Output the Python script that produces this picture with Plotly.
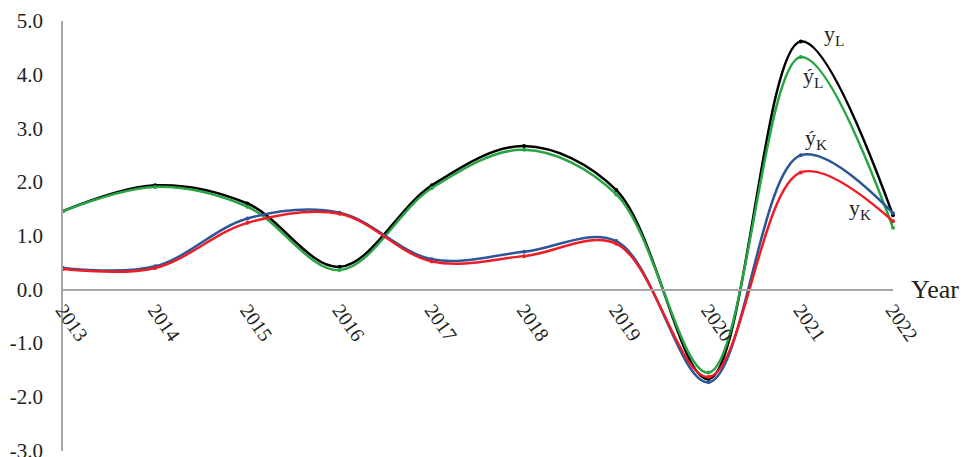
import plotly.graph_objects as go

years = [2013, 2014, 2015, 2016, 2017, 2018, 2019, 2020, 2021, 2022]
year_labels = [str(y) for y in years]

y_L = [1.46, 1.94, 1.60, 0.42, 1.94, 2.67, 1.85, -1.67, 4.62, 1.38]
y_L_hat = [1.46, 1.91, 1.54, 0.36, 1.89, 2.60, 1.77, -1.55, 4.33, 1.15]
y_K_hat = [0.40, 0.43, 1.32, 1.43, 0.56, 0.70, 0.90, -1.73, 2.50, 1.42]
y_K = [0.38, 0.40, 1.24, 1.41, 0.52, 0.62, 0.85, -1.63, 2.18, 1.27]

series_names = ["y<sub>L</sub>", "ý<sub>L</sub>", "ý<sub>K</sub>", "y<sub>K</sub>"]
series_colors = ["#000000", "#27a443", "#2b5797", "#ee1c25"]

y_tick_vals = [5, 4, 3, 2, 1, 0, -1, -2, -3]
y_tick_labels = ["5.0", "4.0", "3.0", "2.0", "1.0", "0.0", "-1.0", "-2.0", "-3.0"]

# label anchor positions (x in years, y in data units)
label_x = [2021.36, 2021.13, 2021.16, 2021.64]
label_y = [4.74, 3.95, 2.80, 1.49]

fig = go.Figure()
for vals, name, color in zip([y_L, y_L_hat, y_K_hat, y_K], series_names, series_colors):
    fig.add_trace(go.Scatter(
        x=years, y=vals, name=name, mode="lines+markers",
        line=dict(color=color, width=2.5, shape="spline", smoothing=1.0),
        marker=dict(color=color, size=4),
        showlegend=False, cliponaxis=False,
    ))

for name, lx, ly in zip(series_names, label_x, label_y):
    fig.add_annotation(x=lx, y=ly, text=name, showarrow=False,
                       font=dict(family="Liberation Serif", size=22, color="#231f20"),
                       xanchor="center", yanchor="middle")

fig.add_annotation(x=1.0, y=0, xref="paper", yref="y", text="Year", showarrow=False,
                   xanchor="left", yanchor="middle", xshift=16,
                   font=dict(family="Liberation Serif", size=26, color="#231f20"))

fig.update_layout(
    width=967, height=457,
    margin=dict(l=63, r=74, t=21, b=6, autoexpand=False),
    paper_bgcolor="white", plot_bgcolor="white",
    font=dict(family="Liberation Serif", color="#231f20"),
    xaxis=dict(
        range=[2013, 2022], tickvals=years, ticktext=year_labels,
        tickangle=55, tickfont=dict(family="Liberation Serif", size=20, color="#231f20"),
        showgrid=False, zeroline=False, showline=True, linecolor="#a6a6a6", linewidth=1.5,
        ticks="", anchor="free", position=0.375, automargin=False,
        ticklabeloverflow="allow",
    ),
    yaxis=dict(
        range=[-3.01, 5], tickvals=y_tick_vals, ticktext=y_tick_labels,
        tickfont=dict(family="Liberation Serif", size=21, color="#231f20"),
        showgrid=False, zeroline=False, showline=True, linecolor="#a6a6a6", linewidth=1.5,
        ticks="", ticklabelstandoff=14, automargin=False,
        ticklabeloverflow="allow",
    ),
)

fig.write_html("out.html", config={"displayModeBar": False},
               post_script="document.body.style.margin='0';document.body.style.overflow='hidden';")
